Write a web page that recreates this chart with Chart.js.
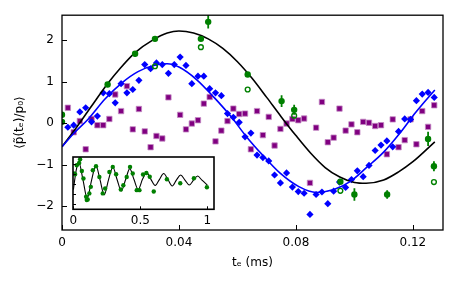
<!DOCTYPE html>
<html>
<head>
<meta charset="utf-8">
<script src="https://cdn.jsdelivr.net/npm/chart.js@4.4.0/dist/chart.umd.min.js"></script>
<style>
    body { margin: 0; background: #fff; }
    #wrap { position: relative; width: 457px; height: 285px; }
    #main { position: absolute; left: 0; top: 0; }
    #inset { position: absolute; left: 62px; top: 150px; }
</style>
</head>
<body>
<div id="wrap">
    <canvas id="main" width="457" height="285"></canvas>
    <canvas id="inset" width="160" height="80"></canvas>
</div>
<script>
// sample times of the measured points (ms)
let sampleT = [0.0020, 0.0040, 0.0061, 0.0081, 0.0101, 0.0121, 0.0141, 0.0162, 0.0182, 0.0202,
    0.0222, 0.0242, 0.0263, 0.0283, 0.0303, 0.0323, 0.0343, 0.0364, 0.0384, 0.0404,
    0.0424, 0.0444, 0.0465, 0.0485, 0.0505, 0.0525, 0.0545, 0.0566, 0.0586, 0.0606,
    0.0626, 0.0646, 0.0667, 0.0687, 0.0707, 0.0727, 0.0747, 0.0768, 0.0788, 0.0808,
    0.0828, 0.0848, 0.0869, 0.0889, 0.0909, 0.0929, 0.0949, 0.0970, 0.0990, 0.1010,
    0.1030, 0.1050, 0.1071, 0.1091, 0.1111, 0.1131, 0.1151, 0.1172, 0.1192, 0.1212,
    0.1232, 0.1252, 0.1273];

let blueV = [-0.10, -0.05, 0.27, 0.37, 0.03, 0.17, 0.73, 0.71, 0.49, 0.95,
    0.73, 0.81, 1.03, 1.41, 1.31, 1.45, 1.41, 1.20, 1.41, 1.59,
    1.39, 0.95, 1.13, 1.13, 0.83, 0.73, 0.66, 0.23, 0.14, 0.02,
    -0.33, -0.24, -0.77, -0.83, -0.91, -1.25, -1.44, -1.20, -1.54, -1.65,
    -1.69, -2.20, -1.72, -1.66, -1.94, -1.64, -1.42, -1.55, -1.36, -1.15,
    -1.29, -1.02, -0.66, -0.53, -0.43, -0.57, -0.20, 0.10, 0.09, 0.54,
    0.70, 0.74, 0.62];

let purpleV = [0.37, -0.22, 0.05, -0.63, 0.10, -0.05, -0.05, 0.10, 0.69, 0.29,
    0.89, -0.15, 0.34, -0.20, -0.58, -0.31, -0.37, 0.62, null, 0.20,
    -0.15, -0.01, 0.07, 0.47, 0.63, -0.44, -0.18, 0.05, 0.35, 0.22,
    0.23, -0.63, 0.29, -0.29, 0.15, -0.54, -0.14, -0.01, 0.10, 0.07,
    0.11, -1.44, -0.11, 0.51, -0.46, -0.35, 0.35, -0.18, -0.03, -0.22,
    0.03, 0.01, -0.07, -0.05, -0.75, 0.09, -0.58, -0.41, 0.09, -0.51,
    0.29, -0.09, 0.43];

let greenT = [0, 0, 0.0156, 0.025, 0.0318, 0.0475, 0.0500, 0.0635, 0.0751, 0.0794, 0.0952, 0.1000, 0.1112, 0.1252, 0.1272];
let greenV = [0.20, 0.03, 0.93, 1.67, 2.03, 2.03, 2.44, 1.17, 0.53, 0.32, -1.41, -1.72, -1.72, -0.38, -1.04];
let greenErr = [0, 0, 0.04, 0.07, 0.05, 0.05, 0.16, 0.05, 0.14, 0.12, 0.06, 0.15, 0.10, 0.17, 0.12];

let openT = [0.0318, 0.0475, 0.0635, 0.0794, 0.0952, 0.1272];
let openV = [1.37, 1.83, 0.81, 0.18, -1.63, -1.42];

let blackT = [0, 0.005, 0.01, 0.0157, 0.02, 0.025, 0.031, 0.036, 0.04, 0.045, 0.05, 0.055, 0.06,
    0.065, 0.07, 0.075, 0.08, 0.085, 0.09, 0.095, 0.1, 0.104, 0.11, 0.115, 0.12, 0.1275];
let blackV = [-0.57, -0.1, 0.4, 0.96, 1.33, 1.7, 2.0, 2.17, 2.22, 2.17, 2.03, 1.8, 1.48,
    1.08, 0.62, 0.15, -0.3, -0.72, -1.07, -1.3, -1.43, -1.45, -1.37, -1.18, -0.93, -0.45];

let blueFitT = [0, 0.004, 0.009, 0.0147, 0.0205, 0.026, 0.032, 0.036, 0.04, 0.046, 0.052, 0.058,
    0.063, 0.069, 0.0745, 0.081, 0.087, 0.093, 0.0985, 0.104, 0.11, 0.1156, 0.121, 0.1275];
let blueFitV = [-0.57, -0.25, 0.1, 0.58, 0.97, 1.24, 1.40, 1.43, 1.35, 1.05, 0.62, 0.14,
    -0.32, -0.8, -1.2, -1.53, -1.67, -1.6, -1.41, -1.08, -0.7, -0.24, 0.26, 0.8];

// inset: long time trace
let insetCurveT = [0, 0.02, 0.04, 0.072, 0.103, 0.136, 0.168, 0.199, 0.23, 0.262, 0.295, 0.326,
    0.358, 0.39, 0.421, 0.452, 0.484, 0.516, 0.547, 0.579, 0.611, 0.643, 0.674, 0.706,
    0.738, 0.77, 0.801, 0.833, 0.865, 0.897, 0.928, 0.96, 1.0];
let insetCurveV = [-0.57, 1.33, 2.22, 0.39, -1.45, 0.4, 1.86, 0.42, -1.09, 0.42, 1.69, 0.45,
    -0.7, 0.45, 1.55, 0.47, -0.55, 0.47, 1.15, 0.47, -0.15, 0.47, 1.05, 0.45,
    -0.2, 0.42, 0.9, 0.4, -0.1, 0.38, 0.8, 0.38, -0.1];

let insetDotT = [0.005, 0.013, 0.025, 0.043, 0.05, 0.063, 0.075, 0.095, 0.1, 0.107, 0.119, 0.13,
    0.145, 0.169, 0.194, 0.219, 0.237, 0.269, 0.294, 0.319, 0.354, 0.373, 0.398, 0.423,
    0.443, 0.473, 0.493, 0.52, 0.545, 0.57, 0.6, 0.698, 0.798, 0.9, 0.997];
let insetDotV = [1.05, 0.98, 1.89, 2.12, 2.49, 1.31, 0.55, -1.29, -1.62, -1.55, -0.95, -0.29,
    1.38, 1.79, 0.71, -0.95, -0.45, 1.21, 1.72, 0.98, -0.55, -0.12, 0.71, 1.72,
    1.05, -0.62, -0.62, 0.95, 1.11, 0.73, -0.75, 0.48, 0.08, 0.58, -0.33];

let xTickValues = [0, 0.04, 0.08, 0.12];
let xTickLabels = ["0", "0.04", "0.08", "0.12"];
let yTickValues = [-2, -1, 0, 1, 2];
let yTickLabels = ["\u22122", "\u22121", "0", "1", "2"];
let insetXTickValues = [0, 0.5, 1];
let insetXTickLabels = ["0", "0.5", "1"];
let insetYTickValues = [-2, -1, 0, 1, 2];


function points(xs, ys) {
    return xs.map((x, i) => ({ x: x, y: ys[i] }));
}

// box around the plot plus inward ticks
let frameTicks = {
    id: "frameTicks",
    beforeDraw(chart, args, opts) {
        if (opts.fill) {
            let a = chart.chartArea;
            chart.ctx.save();
            chart.ctx.fillStyle = "#fff";
            chart.ctx.fillRect(a.left, a.top, a.right - a.left, a.bottom - a.top);
            chart.ctx.restore();
        }
    },
    afterDatasetsDraw(chart, args, opts) {
        let ctx = chart.ctx;
        let area = chart.chartArea;
        let xs = chart.scales.x;
        let ys = chart.scales.y;
        ctx.save();
        ctx.strokeStyle = "#000";
        ctx.lineWidth = 1;
        ctx.beginPath();
        opts.xTicks.forEach(v => {
            let px = Math.round(xs.getPixelForValue(v)) + 0.5;
            ctx.moveTo(px, area.bottom);
            ctx.lineTo(px, area.bottom - opts.tickLen);
        });
        opts.yTicks.forEach(v => {
            let py = Math.round(ys.getPixelForValue(v)) + 0.5;
            ctx.moveTo(area.left, py);
            ctx.lineTo(area.left + opts.tickLen, py);
        });
        ctx.stroke();
        ctx.lineWidth = opts.frameWidth;
        ctx.strokeRect(area.left, area.top, area.right - area.left, area.bottom - area.top);
        ctx.restore();
    }
};

// vertical error bars for the green points
let errorBars = {
    id: "errorBars",
    beforeDatasetsDraw(chart, args, opts) {
        if (!opts.on) return;
        let ctx = chart.ctx;
        let xs = chart.scales.x;
        let ys = chart.scales.y;
        ctx.save();
        ctx.strokeStyle = "#008000";
        ctx.lineWidth = 1.8;
        ctx.beginPath();
        greenT.forEach((t, i) => {
            if (!greenErr[i]) return;
            let px = xs.getPixelForValue(t);
            ctx.moveTo(px, ys.getPixelForValue(greenV[i] - greenErr[i]));
            ctx.lineTo(px, ys.getPixelForValue(greenV[i] + greenErr[i]));
        });
        ctx.stroke();
        ctx.restore();
    }
};

Chart.defaults.font.family = "'DejaVu Sans', sans-serif";
Chart.defaults.color = "#000";

function makeMain() {
    let canvas = document.getElementById("main");
    new Chart(canvas.getContext("2d"), {
        type: "scatter",
        data: {
            datasets: [{
                data: points(greenT, greenV),
                pointRadius: 3.2,
                pointBackgroundColor: "#008000",
                pointBorderWidth: 0
            }, {
                data: points(openT, openV),
                pointRadius: 2.4,
                pointBackgroundColor: "rgba(0,0,0,0)",
                pointBorderColor: "#008000",
                pointBorderWidth: 1.4
            }, {
                data: points(blueFitT, blueFitV),
                showLine: true,
                pointRadius: 0,
                borderColor: "#0000ff",
                borderWidth: 1.6,
                cubicInterpolationMode: "monotone"
            }, {
                data: points(blackT, blackV),
                showLine: true,
                pointRadius: 0,
                borderColor: "#000",
                borderWidth: 1.6,
                cubicInterpolationMode: "monotone"
            }, {
                data: points(sampleT, blueV),
                pointStyle: "rectRot",
                pointRadius: 3.6,
                pointBackgroundColor: "#0000ff",
                pointBorderWidth: 0
            }, {
                data: points(sampleT, purpleV),
                pointStyle: "rect",
                pointRadius: 3.8,
                pointBackgroundColor: "#800080",
                pointBorderColor: "#c48ac4",
                pointBorderWidth: 0.8
            }]
        },
        options: {
            responsive: false,
            animation: false,
            events: [],
            layout: { padding: { top: 14, right: 14, left: 0, bottom: 0 } },
            plugins: {
                legend: { display: false },
                tooltip: { enabled: false },
                frameTicks: { xTicks: xTickValues, yTicks: yTickValues, tickLen: 5, frameWidth: 1.3 },
                errorBars: { on: true }
            },
            scales: {
                x: {
                    type: "linear",
                    min: 0,
                    max: 0.1303,
                    afterBuildTicks: s => { s.ticks = xTickValues.map(v => ({ value: v })); },
                    afterFit: s => { s.height = 55; },
                    grid: { display: false, drawTicks: false },
                    border: { display: false },
                    ticks: {
                        autoSkip: false, maxRotation: 0, padding: 6, font: { size: 12 },
                        callback: (v, i) => xTickLabels[i]
                    },
                    title: { display: true, text: "t\u2091 (ms)", font: { size: 12 }, padding: { top: 0, bottom: 15 } }
                },
                y: {
                    type: "linear",
                    min: -2.575,
                    max: 2.6,
                    afterBuildTicks: s => { s.ticks = yTickValues.map(v => ({ value: v })); },
                    afterFit: s => { s.width = 62; },
                    grid: { display: false, drawTicks: false },
                    border: { display: false },
                    ticks: {
                        autoSkip: false, padding: 8, font: { size: 12 },
                        callback: (v, i) => yTickLabels[i]
                    },
                    title: { display: true, text: "\u27e8p\u0303(t\u2091)/p\u2080\u27e9", font: { size: 12 }, padding: { top: 13, bottom: 0 } }
                }
            }
        },
        plugins: [frameTicks, errorBars]
    });
}

function makeInset() {
    let canvas = document.getElementById("inset");
    new Chart(canvas.getContext("2d"), {
        type: "scatter",
        data: {
            datasets: [{
                data: points(insetDotT, insetDotV),
                pointRadius: 2.2,
                pointBackgroundColor: "#008000",
                pointBorderWidth: 0
            }, {
                data: points(insetCurveT, insetCurveV),
                showLine: true,
                pointRadius: 0,
                borderColor: "#000",
                borderWidth: 1.1,
                cubicInterpolationMode: "monotone"
            }]
        },
        options: {
            responsive: false,
            animation: false,
            events: [],
            layout: { padding: { top: 7, right: 8, left: 11, bottom: 0 } },
            plugins: {
                legend: { display: false },
                tooltip: { enabled: false },
                frameTicks: { xTicks: insetXTickValues, yTicks: insetYTickValues, tickLen: 3, frameWidth: 1.6, fill: true },
                errorBars: { on: false }
            },
            scales: {
                x: {
                    type: "linear",
                    min: -0.003,
                    max: 1.05,
                    afterBuildTicks: s => { s.ticks = insetXTickValues.map(v => ({ value: v })); },
                    afterFit: s => { s.height = 20.7; },
                    grid: { display: false, drawTicks: false },
                    border: { display: false },
                    ticks: {
                        autoSkip: false, maxRotation: 0, padding: 4, font: { size: 12 },
                        callback: (v, i) => insetXTickLabels[i]
                    }
                },
                y: {
                    type: "linear",
                    display: false,
                    min: -2.55,
                    max: 2.72
                }
            }
        },
        plugins: [frameTicks, errorBars]
    });
}

makeMain();
makeInset();
</script>
</body>
</html>
